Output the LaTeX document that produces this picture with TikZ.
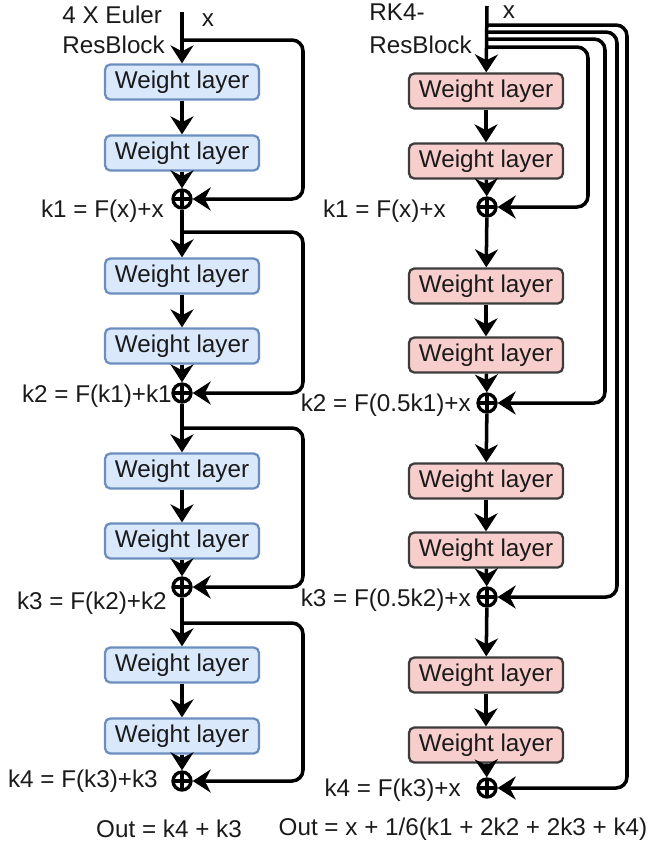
\documentclass[tikz,border=0pt]{standalone}
\usepackage{fontspec}
\setmainfont{Liberation Sans}
\usetikzlibrary{arrows.meta, positioning}
\definecolor{EulerFill}{HTML}{DAE8FC}
\definecolor{EulerLine}{HTML}{6C8EBF}
\definecolor{RKFill}{HTML}{F8CECC}
\definecolor{RKLine}{HTML}{3C3C3C}
\definecolor{InkBlack}{HTML}{1A1A1A}
\tikzset{
  eulerbox/.style={rectangle, rounded corners=3pt, fill=EulerFill, draw=EulerLine,
                   line width=1.3pt, minimum width=3.08cm, minimum height=0.7cm,
                   inner sep=0pt, text=InkBlack},
  rkbox/.style={eulerbox, fill=RKFill, draw=RKLine},
  addop/.style={circle, draw, line width=1.9pt, minimum size=0.36cm, inner sep=0pt,
                path picture={\draw[line width=1.9pt]
                  (path picture bounding box.north) -- (path picture bounding box.south)
                  (path picture bounding box.west) -- (path picture bounding box.east);}},
  flow/.style={-{Stealth[length=0.36cm,width=0.46cm]}, line width=2pt},
  skip/.style={flow, rounded corners=0.22cm},
  eqlabel/.style={anchor=east, inner sep=0pt, text=InkBlack},
}

\begin{document}
\begin{tikzpicture}[x=0.02cm, y=-0.02cm, font=\fontsize{13.8}{17}\selectfont]
    \useasboundingbox (0,0) rectangle (650,850);

    % Euler column
    \node[anchor=west, align=left, inner sep=0pt, text=InkBlack] (eulertitle) at (62,30) {4 X Euler\\ResBlock};
    \node[inner sep=0pt, text=InkBlack] (eulerx) at (208,20) {x};
    \coordinate (ein) at (182,12);
    \coordinate (eb1) at (182,40);
    \coordinate (eb2) at (182,232);
    \coordinate (eb3) at (182,428);
    \coordinate (eb4) at (182,623);

    \node[eulerbox] (e1) at (182,82) {Weight layer};
    \node[eulerbox] (e2) at (182,153) {Weight layer};
    \node[addop] (p1) at (182,199) {};
    \node[eulerbox] (e3) at (182,276) {Weight layer};
    \node[eulerbox] (e4) at (182,346) {Weight layer};
    \node[addop] (p2) at (182,393) {};
    \node[eulerbox] (e5) at (182,471) {Weight layer};
    \node[eulerbox] (e6) at (182,541) {Weight layer};
    \node[addop] (p3) at (182,587) {};
    \node[eulerbox] (e7) at (182,665) {Weight layer};
    \node[eulerbox] (e8) at (182,736) {Weight layer};
    \node[addop] (p4) at (182,781) {};

    \node[eqlabel] (ek1) at (164,211) {k1 = F(x)+x};
    \node[eqlabel] (ek2) at (172,396) {k2 = F(k1)+k1};
    \node[eqlabel] (ek3) at (167,603) {k3 = F(k2)+k2};
    \node[eqlabel] (ek4) at (158,781) {k4 = F(k3)+k3};
    \node[inner sep=0pt, text=InkBlack] (eout) at (169,829) {Out = k4 + k3};

    % Euler arrows
    \draw[flow] (ein) -- (e1);
    \draw[flow] (e1) -- (e2);
    \draw[flow] (e2) -- (p1);
    \draw[flow] (p1) -- (e3);
    \draw[flow] (e3) -- (e4);
    \draw[flow] (e4) -- (p2);
    \draw[flow] (p2) -- (e5);
    \draw[flow] (e5) -- (e6);
    \draw[flow] (e6) -- (p3);
    \draw[flow] (p3) -- (e7);
    \draw[flow] (e7) -- (e8);
    \draw[flow] (e8) -- (p4);

    % Euler skips
    \draw[skip] (eb1) -- ++(121,0) |- (p1);
    \draw[skip] (eb2) -- ++(121,0) |- (p2);
    \draw[skip] (eb3) -- ++(121,0) |- (p3);
    \draw[skip] (eb4) -- ++(121,0) |- (p4);

    % RK4 column
    \node[anchor=west, align=left, inner sep=0pt, text=InkBlack,
          font=\fontsize{13.8}{19}\selectfont] (rktitle) at (369,29) {RK4-\\ResBlock};
    \node[inner sep=0pt, text=InkBlack] (rkx) at (509,12) {x};
    \coordinate (rin) at (487,6);
    \coordinate (rb4) at (487,25);
    \coordinate (rb3) at (487,32);
    \coordinate (rb2) at (487,39);
    \coordinate (rb1) at (487,47);

    \node[rkbox] (r1) at (486,91) {Weight layer};
    \node[rkbox] (r2) at (486,161) {Weight layer};
    \node[addop] (q1) at (487,207) {};
    \node[rkbox] (r3) at (486,286) {Weight layer};
    \node[rkbox] (r4) at (486,355) {Weight layer};
    \node[addop] (q2) at (487,403) {};
    \node[rkbox] (r5) at (486,481) {Weight layer};
    \node[rkbox] (r6) at (486,550) {Weight layer};
    \node[addop] (q3) at (487,597) {};
    \node[rkbox] (r7) at (486,675) {Weight layer};
    \node[rkbox] (r8) at (486,745) {Weight layer};
    \node[addop] (q4) at (487,788) {};

    \node[eqlabel] (rk1) at (446,211) {k1 = F(x)+x};
    \node[eqlabel] (rk2) at (471,405) {k2 = F(0.5k1)+x};
    \node[eqlabel] (rk3) at (471,600) {k3 = F(0.5k2)+x};
    \node[eqlabel] (rk4) at (461,790) {k4 = F(k3)+x};
    \node[inner sep=0pt, text=InkBlack] (rout) at (463,829) {Out = x + 1/6(k1 + 2k2 + 2k3 + k4)};

    % RK4 arrows
    \draw[flow] (rin) -- (r1);
    \draw[flow] (r1) -- (r2);
    \draw[flow] (r2) -- (q1);
    \draw[flow] (q1) -- (r3);
    \draw[flow] (r3) -- (r4);
    \draw[flow] (r4) -- (q2);
    \draw[flow] (q2) -- (r5);
    \draw[flow] (r5) -- (r6);
    \draw[flow] (r6) -- (q3);
    \draw[flow] (q3) -- (r7);
    \draw[flow] (r7) -- (r8);
    \draw[flow] (r8) -- (q4);

    % RK4 skips from x
    \draw[skip] (rb1) -- ++(101,0) |- (q1);
    \draw[skip] (rb2) -- ++(118,0) |- (q2);
    \draw[skip] (rb3) -- ++(130,0) |- (q3);
    \draw[skip] (rb4) -- ++(140,0) |- (q4);
\end{tikzpicture}
\end{document}
